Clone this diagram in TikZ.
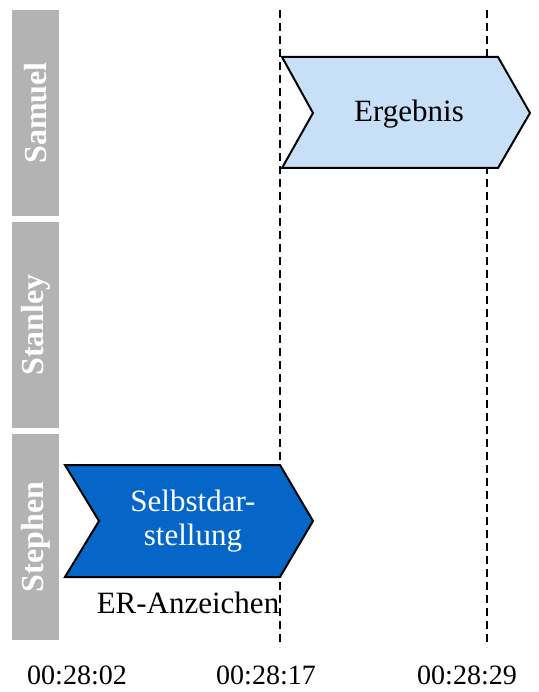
\documentclass[tikz,border=0pt]{standalone}
\usepackage{fontspec}
\setmainfont{Liberation Serif}
\definecolor{lanegrey}{HTML}{B3B3B3}
\definecolor{paleblue}{HTML}{C7E0F8}
\definecolor{deepblue}{HTML}{0566C8}
\begin{document}
\begin{tikzpicture}[x=1pt,y=-1pt,
  lane/.style={fill=lanegrey, rotate=90, minimum width=206pt, minimum height=47pt,
    inner sep=0pt, text=white, font=\fontsize{32}{34}\selectfont\bfseries},
  chev/.style={draw=black, line width=2pt, line join=miter},
  txt/.style={font=\fontsize{31}{34}\selectfont, inner sep=0pt, align=center},
  timetxt/.style={font=\fontsize{28}{30}\selectfont, inner sep=0pt},
  marker/.style={line width=2pt, dash pattern=on 8pt off 5pt}]
\useasboundingbox (0,0) rectangle (538,692);

% swim lanes
\node[lane] (samuel)  at (35.5,113) {Samuel};
\node[lane] (stanley) at (35.5,325) {Stanley};
\node[lane] (stephen) at (35.5,537) {Stephen};

% time markers
\coordinate (t1top) at (280,10);
\coordinate (t1bot) at (280,647);
\coordinate (t2top) at (487,10);
\coordinate (t2bot) at (487,647);
\draw[marker] (t1top) -- (t1bot);
\draw[marker] (t2top) -- (t2bot);

% chevron: Ergebnis
\draw[chev, fill=paleblue] (282,57) -- (498,57) -- (530,113) -- (498,168) -- (282,168) -- (313,113) -- cycle;
\node[txt] (ergebnis) at (409,114) {Ergebnis};

% chevron: Selbstdarstellung
\draw[chev, fill=deepblue] (65,465) -- (280,465) -- (313,521) -- (280,577) -- (65,577) -- (99,521) -- cycle;
\node[txt, text=white] (selbst) at (193,521) {Selbstdar-\\stellung};
\node[txt] (er) at (188,603) {ER-Anzeichen};

% time axis labels
\node[timetxt] (time1) at (77,675) {00:28:02};
\node[timetxt] (time2) at (266,675) {00:28:17};
\node[timetxt] (time3) at (467,675) {00:28:29};
\end{tikzpicture}
\end{document}
